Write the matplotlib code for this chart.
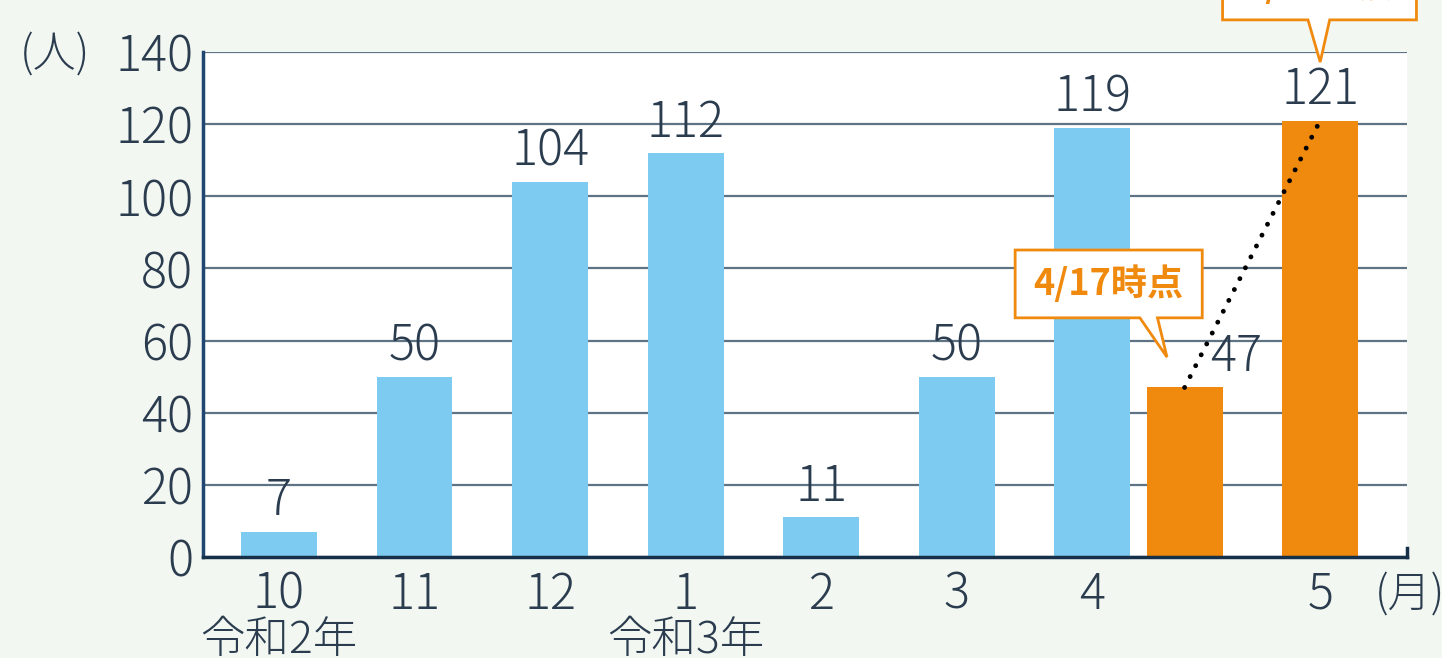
import numpy as np
import matplotlib.pyplot as plt
from matplotlib.patches import Polygon

plt.rcParams['font.family'] = ['Noto Sans CJK JP', 'DejaVu Sans']
plt.rcParams['font.weight'] = 'light'

# monthly values (令和2年10月 .. 令和3年4月)
months = ['10', '11', '12', '1', '2', '3', '4']
counts = [7, 50, 104, 112, 11, 50, 119]
# partial-month values (orange)
recent_ticks = ['', '5']
recent_counts = [47, 121]
recent_notes = ['4/17時点', '5/17時点']
year_labels = ['令和2年', '令和3年']
year_at = [0, 3]  # month index under which the year is written

blue = '#7dcbf1'
orange = '#f08a0f'
text_col = '#2a3c4e'
grid_col = '#5e7383'
num_size = 35

fig = plt.figure(figsize=(14.42, 6.58), dpi=100, facecolor='#f3f7f2')
ax = fig.add_axes([0.1408, 0.1535, 0.8349, 0.7675])
ax.set_facecolor('white')

x_month = np.arange(len(months))
x_recent = x_month[-1] + 0.68 + np.arange(len(recent_counts))
bw = 0.56

ax.bar(x_month, counts, width=bw, color=blue, zorder=2)
ax.bar(x_recent, recent_counts, width=bw, color=orange, zorder=2)

xmin, xmax = -0.56, 8.32
ax.set_xlim(xmin, xmax)
ax.set_ylim(0, 140)
ax.set_yticks(range(0, 141, 20))
ax.yaxis.grid(True, color=grid_col, lw=1.6)
ax.set_axisbelow(True)

ax.set_xticks(list(x_month) + list(x_recent))
ax.set_xticklabels(months + recent_ticks)
ax.tick_params(axis='both', length=0, labelsize=num_size, colors=text_col)
ax.tick_params(axis='y', pad=7)
ax.tick_params(axis='x', pad=9)

for s in ['top', 'right']:
    ax.spines[s].set_visible(False)
ax.spines['left'].set_color('#1e4670')
ax.spines['left'].set_linewidth(2.5)
ax.spines['bottom'].set_color('#17304a')
ax.spines['bottom'].set_linewidth(2.5)
ax.plot([xmax, xmax], [0, 2.5], color='#17304a', lw=2.5, clip_on=False, zorder=5)

# value labels
for x, v in zip(x_month, counts):
    ax.text(x, v + 1.2, str(v), ha='center', va='bottom', fontsize=num_size, color=text_col, zorder=4)
offsets = [0.38, 0.0]
for x, v, dx in zip(x_recent, recent_counts, offsets):
    ax.text(x + dx, v + 1.2, str(v), ha='center', va='bottom', fontsize=num_size, color=text_col, zorder=4)

# dotted trend line between the two partial months
ax.plot(x_recent, recent_counts, color='black', lw=3.5, linestyle=(0, (0.01, 2.5)),
        dash_capstyle='round', zorder=3)


def callout(tip, base, box, text):
    (tx, ty), (b0, b1), (x0, x1, y0, y1) = tip, base, box
    pts = [(x0, y0), (b0, y0), (tx, ty), (b1, y0), (x1, y0), (x1, y1), (x0, y1)]
    ax.add_patch(Polygon(pts, closed=True, fc='white', ec=orange, lw=2,
                         clip_on=False, zorder=6))
    ax.text((x0 + x1) / 2, (y0 + y1) / 2, text, ha='center', va='center',
            fontsize=26, fontweight='bold', color=orange, zorder=7, clip_on=False)


b = x_recent[0]
callout((b - 0.13, 55.4), (b - 0.33, b - 0.20), (b - 1.25, b + 0.13, 66.3, 85.1), recent_notes[0])
b = x_recent[1]
callout((b, 137.2), (b - 0.09, b + 0.07), (b - 0.72, b + 0.71, 148.9, 167.7), recent_notes[1])

# year labels under the month ticks
for lab, i in zip(year_labels, year_at):
    ax.text(x_month[i], -0.165, lab, ha='center', va='center', fontsize=32,
            color=text_col, transform=ax.get_xaxis_transform(), clip_on=False)

fig.text(0.038, 0.917, '(人)', ha='center', va='center', fontsize=31, color=text_col)
fig.text(0.978, 0.096, '(月)', ha='center', va='center', fontsize=31, color=text_col)

fig.savefig('out.png', dpi=100, facecolor=fig.get_facecolor())
